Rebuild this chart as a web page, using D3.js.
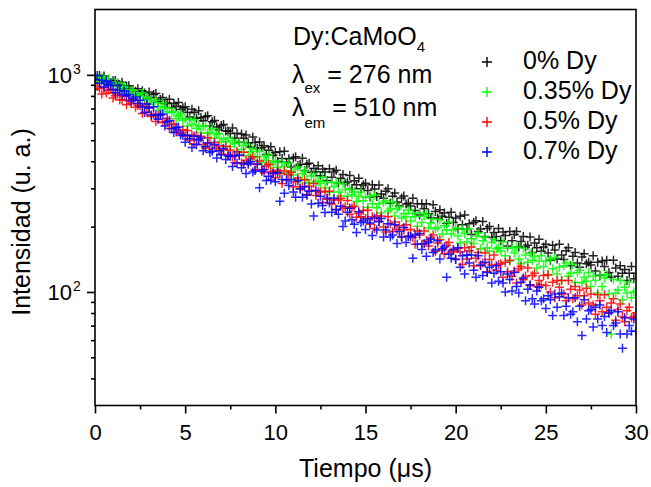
<!DOCTYPE html>
<html>
<head>
<meta charset="utf-8">
<script src="https://cdn.jsdelivr.net/npm/d3@7"></script>
<style>
  body { margin: 0; background: #fff; }
  svg text { font-family: Arial, "Liberation Sans", sans-serif; fill: #000; }
</style>
</head>
<body>
<svg id="decay" width="651" height="487"></svg>
<script>
// decay curves, Dy:CaMoO4 (intensity in a.u.)
const timeStep = 0.125; // µs between samples
const times = d3.range(241).map(i => i * timeStep);

const dy0 = [
  997, 946, 993, 955, 989, 929, 944, 899, 940, 943, 895, 899, 924, 863, 887, 890, 844, 858, 840, 863,
  810, 845, 825, 777, 834, 787, 812, 820, 751, 771, 787, 737, 742, 772, 706, 739, 717, 746, 692, 706,
  713, 673, 640, 694, 671, 631, 683, 636, 614, 641, 648, 582, 608, 617, 575, 557, 584, 591, 552, 552,
  537, 569, 511, 539, 489, 534, 510, 529, 485, 465, 518, 488, 458, 490, 461, 471, 430, 449, 466, 426,
  439, 399, 442, 412, 445, 396, 411, 376, 414, 420, 382, 388, 413, 363, 387, 392, 356, 370, 358, 381,
  343, 368, 357, 326, 369, 338, 357, 364, 318, 334, 348, 316, 321, 344, 300, 325, 312, 334, 299, 311,
  317, 293, 274, 312, 298, 275, 311, 283, 270, 291, 299, 256, 276, 286, 259, 249, 271, 277, 254, 256,
  249, 270, 237, 255, 226, 255, 242, 255, 229, 219, 252, 235, 219, 239, 223, 231, 207, 221, 233, 209,
  219, 195, 223, 204, 226, 195, 206, 184, 209, 213, 190, 195, 211, 180, 196, 200, 178, 188, 180, 196,
  172, 189, 182, 163, 190, 172, 184, 190, 161, 171, 180, 161, 164, 179, 152, 168, 160, 175, 154, 161,
  166, 151, 140, 164, 156, 142, 166, 148, 141, 155, 160, 132, 146, 152, 136, 130, 145, 150, 135, 137,
  133, 147, 125, 137, 119, 139, 131, 140, 123, 117, 140, 129, 118, 132, 122, 127, 113, 122, 131, 115, 122];

const dy035 = [
  1000, 959, 927, 976, 953, 914, 960, 914, 891, 914, 921, 855, 877, 886, 842, 823, 848, 853, 814, 812,
  795, 826, 760, 787, 732, 775, 747, 764, 713, 690, 742, 707, 674, 701, 669, 676, 630, 647, 660, 616,
  627, 581, 625, 590, 622, 566, 581, 540, 579, 581, 539, 543, 565, 511, 532, 536, 495, 507, 492, 512,
  467, 497, 481, 443, 491, 453, 473, 480, 425, 442, 455, 417, 421, 446, 394, 421, 403, 426, 385, 396,
  401, 374, 353, 394, 379, 352, 392, 360, 346, 368, 376, 328, 350, 361, 329, 318, 342, 350, 322, 324,
  316, 338, 301, 321, 288, 319, 305, 319, 289, 277, 315, 296, 276, 299, 281, 289, 261, 276, 289, 263,
  273, 245, 276, 255, 279, 244, 255, 231, 258, 263, 236, 241, 258, 224, 241, 246, 219, 230, 222, 238,
  212, 230, 222, 201, 231, 209, 223, 228, 197, 208, 217, 195, 198, 215, 185, 202, 193, 209, 185, 193,
  197, 181, 168, 195, 186, 170, 195, 176, 167, 181, 187, 158, 172, 179, 160, 154, 169, 174, 158, 160,
  155, 170, 147, 159, 139, 160, 151, 161, 142, 135, 159, 148, 137, 151, 140, 146, 129, 139, 147, 131,
  139, 120, 142, 128, 144, 121, 130, 113, 132, 136, 118, 122, 134, 111, 123, 126, 110, 117, 112, 123,
  106, 118, 113, 99, 120, 106, 116, 120, 98, 64, 114, 99, 102, 113, 92, 105, 99, 111, 94, 100, 101];

const dy05 = [
  854, 888, 867, 816, 875, 824, 849, 856, 783, 802, 817, 765, 768, 798, 729, 761, 738, 766, 710, 723,
  720, 664, 714, 673, 708, 643, 658, 610, 652, 654, 604, 606, 630, 568, 591, 592, 546, 557, 539, 559,
  524, 555, 499, 527, 480, 525, 502, 521, 478, 460, 513, 485, 456, 488, 460, 471, 431, 452, 469, 430,
  451, 420, 395, 442, 425, 394, 440, 403, 386, 411, 420, 366, 390, 401, 367, 354, 380, 388, 357, 359,
  336, 364, 351, 316, 361, 328, 348, 356, 305, 322, 335, 300, 305, 329, 281, 308, 293, 316, 278, 290,
  289, 258, 290, 267, 291, 254, 265, 239, 266, 270, 243, 247, 264, 228, 244, 248, 221, 231, 222, 237,
  218, 238, 205, 222, 196, 224, 211, 224, 199, 189, 222, 206, 190, 210, 194, 202, 179, 193, 204, 181,
  194, 178, 166, 191, 183, 166, 191, 172, 163, 178, 183, 154, 168, 174, 156, 150, 164, 169, 153, 155,
  142, 159, 153, 134, 160, 142, 155, 161, 132, 143, 152, 132, 136, 151, 124, 141, 133, 148, 126, 134,
  135, 117, 137, 124, 140, 118, 125, 110, 128, 131, 114, 118, 129, 107, 119, 122, 106, 113, 108, 119,
  107, 120, 100, 111, 94, 113, 105, 113, 98, 91, 113, 103, 93, 106, 96, 102, 87, 96, 104, 89,
  98, 87, 79, 97, 91, 81, 97, 85, 80, 89, 93, 74, 83, 88, 77, 73, 82, 85, 76, 77, 80];

const dy07 = [
  955, 992, 914, 945, 879, 931, 897, 917, 857, 828, 890, 848, 808, 843, 802, 811, 757, 776, 791, 739,
  764, 712, 671, 734, 703, 653, 713, 655, 625, 655, 661, 581, 608, 617, 565, 542, 571, 575, 528, 525,
  489, 525, 508, 463, 521, 476, 502, 512, 447, 468, 485, 439, 445, 476, 414, 447, 429, 458, 408, 423,
  422, 378, 425, 392, 427, 373, 389, 351, 392, 398, 357, 363, 388, 302, 360, 366, 326, 341, 328, 351,
  322, 355, 262, 330, 285, 329, 309, 330, 289, 273, 325, 298, 273, 305, 279, 291, 254, 224, 293, 256,
  276, 250, 232, 271, 257, 233, 270, 240, 228, 248, 200, 212, 233, 243, 215, 205, 188, 234, 209, 212,
  194, 217, 208, 182, 219, 193, 211, 218, 179, 193, 206, 179, 183, 204, 167, 190, 179, 198, 169, 180,
  180, 143, 183, 166, 186, 157, 167, 146, 170, 175, 152, 156, 172, 142, 158, 161, 117, 149, 143, 157,
  141, 160, 130, 147, 121, 148, 136, 148, 126, 117, 147, 133, 119, 137, 123, 130, 110, 122, 132, 112,
  124, 110, 100, 121, 114, 101, 123, 106, 99, 111, 116, 91, 103, 108, 93, 88, 101, 105, 91, 93,
  84, 96, 92, 78, 98, 85, 95, 99, 78, 86, 94, 79, 81, 94, 73, 86, 63, 92, 75, 82,
  83, 69, 85, 75, 87, 70, 77, 65, 80, 82, 70, 72, 81, 64, 55, 76, 64, 70, 66, 75, 66];

const seriesNames = ["0% Dy", "0.35% Dy", "0.5% Dy", "0.7% Dy"];
const seriesColors = ["#000000", "#00ff00", "#ff0000", "#0000ff"];
const seriesValues = [dy0, dy035, dy05, dy07];

const xMajor = [0, 5, 10, 15, 20, 25, 30];
const xMinor = [2.5, 7.5, 12.5, 17.5, 22.5, 27.5];
const yMajor = [100, 1000];
const yMinor = [40, 50, 60, 70, 80, 90, 200, 300, 400, 500, 600, 700, 800, 900];

const svg = d3.select("#decay");
const frame = { left: 95, right: 636, top: 9.5, bottom: 405.5 };

const x = d3.scaleLinear().domain([0, 30]).range([frame.left, frame.right]);
const y = d3.scaleLog().domain([30, 2000]).range([frame.bottom, frame.top]);

svg.append("defs").append("clipPath").attr("id", "plot-clip")
  .append("rect")
  .attr("x", frame.left).attr("y", frame.top)
  .attr("width", frame.right - frame.left)
  .attr("height", frame.bottom - frame.top);

const crossPath = s => `M${-s},0H${s}M0,${-s}V${s}`;

// data crosses, drawn in legend order so blue ends on top
const points = svg.append("g").attr("clip-path", "url(#plot-clip)");
seriesValues.forEach((vals, k) => {
  points.append("g")
    .selectAll("path")
    .data(vals.map((v, i) => ({ t: times[i], v })))
    .join("path")
    .attr("transform", d => `translate(${x(d.t)},${y(d.v)})`)
    .attr("d", crossPath(4.5))
    .attr("fill", "none")
    .attr("stroke", seriesColors[k])
    .attr("stroke-width", 1.5)
    .attr("stroke-opacity", 0.85);
});

// frame
svg.append("rect")
  .attr("x", frame.left).attr("y", frame.top)
  .attr("width", frame.right - frame.left)
  .attr("height", frame.bottom - frame.top)
  .attr("fill", "none").attr("stroke", "#000").attr("stroke-width", 1.6);

// x axis
const xAxis = svg.append("g").attr("transform", `translate(0,${frame.bottom})`);
xAxis.call(d3.axisBottom(x).tickValues(xMajor).tickSize(8).tickFormat(d3.format("d")));
xAxis.append("g").call(d3.axisBottom(x).tickValues(xMinor).tickSize(4).tickFormat(""));
xAxis.selectAll(".domain").remove();
xAxis.selectAll("line").attr("stroke-width", 1.6);
xAxis.selectAll("text").attr("font-size", 22).attr("dy", null).attr("y", 34);

// y axis
const yAxis = svg.append("g").attr("transform", `translate(${frame.left},0)`);
yAxis.call(d3.axisLeft(y).tickValues(yMajor).tickSize(8).tickFormat(""));
yAxis.append("g").call(d3.axisLeft(y).tickValues(yMinor).tickSize(4).tickFormat(""));
yAxis.selectAll(".domain").remove();
yAxis.selectAll("line").attr("stroke-width", 1.6);

yMajor.forEach(v => {
  svg.append("text")
    .attr("x", 72).attr("y", y(v) + 8)
    .attr("text-anchor", "end")
    .attr("font-size", 22)
    .text("10");
  svg.append("text")
    .attr("x", 73).attr("y", y(v) - 1)
    .attr("font-size", 14)
    .text(Math.round(Math.log10(v)));
});

// axis titles
svg.append("text")
  .attr("x", (frame.left + frame.right) / 2).attr("y", 477)
  .attr("text-anchor", "middle")
  .attr("font-size", 25)
  .text("Tiempo (μs)");

svg.append("text")
  .attr("transform", "translate(30,222) rotate(-90)")
  .attr("text-anchor", "middle")
  .attr("font-size", 25)
  .text("Intensidad (u. a.)");

// sample annotation
const note = svg.append("g").attr("font-size", 25);
const l1 = note.append("text").attr("x", 293).attr("y", 45);
l1.append("tspan").text("Dy:CaMoO");
l1.append("tspan").attr("font-size", 15).attr("dy", 7).text("4");

const l2 = note.append("text").attr("x", 292).attr("y", 83);
l2.append("tspan").text("λ");
l2.append("tspan").attr("font-size", 15).attr("dy", 10).text("ex");
l2.append("tspan").attr("dy", -10).text(" = 276 nm");

const l3 = note.append("text").attr("x", 292).attr("y", 116);
l3.append("tspan").text("λ");
l3.append("tspan").attr("font-size", 15).attr("dy", 12).text("em");
l3.append("tspan").attr("dy", -12).text(" = 510 nm");

// legend
const legend = svg.append("g");
seriesNames.forEach((name, k) => {
  const row = legend.append("g").attr("transform", `translate(487,${62 + k * 30})`);
  row.append("path")
    .attr("d", crossPath(5))
    .attr("stroke", seriesColors[k])
    .attr("stroke-width", 1.4);
  row.append("text")
    .attr("x", 36).attr("y", 7)
    .attr("font-size", 25)
    .text(name);
});
</script>
</body>
</html>
